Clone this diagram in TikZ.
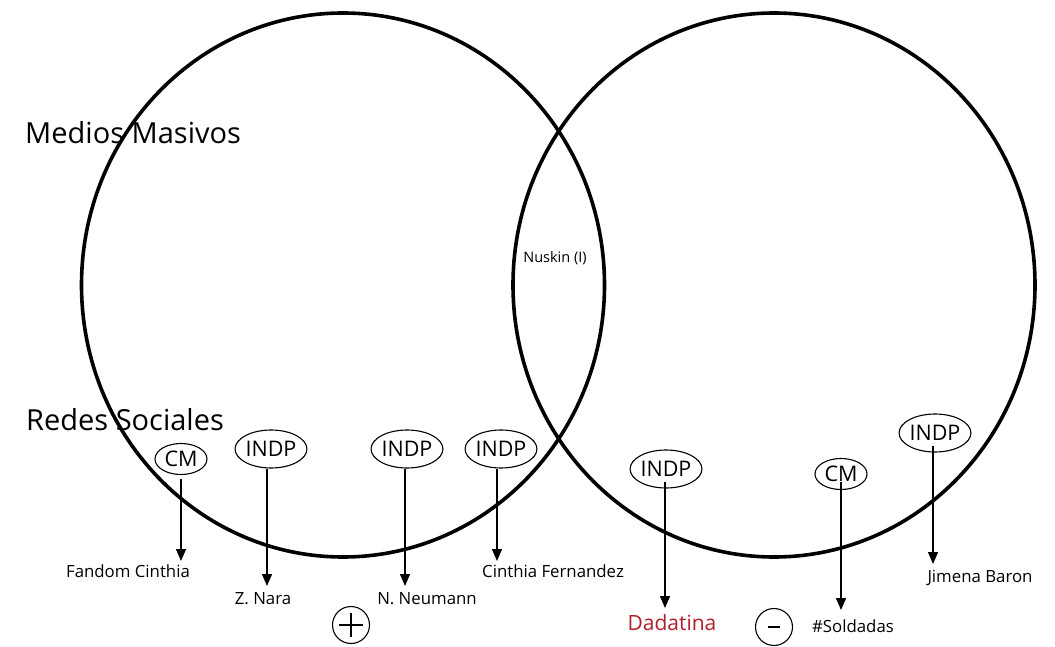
\documentclass[tikz,border=0pt]{standalone}
\usepackage{fontspec}
\setmainfont{Open Sans}
\usetikzlibrary{shapes.geometric,arrows.meta}
\definecolor{namered}{HTML}{B01E2D}
\tikzset{
  setring/.style={line width=3.6pt},
  tag/.style={ellipse,draw,line width=1.1pt,inner sep=0pt,font=\fontsize{21.5}{21.5}\selectfont},
  bigtag/.style={tag,minimum width=67pt,minimum height=38pt},
  smalltag/.style={tag,minimum width=52pt,minimum height=31pt},
  who/.style={inner sep=0pt,font=\fontsize{16.8}{17}\selectfont},
  heading/.style={inner sep=0pt,anchor=base west,font=\fontsize{29}{29}\selectfont},
  pointer/.style={line width=1.4pt,-{Triangle[width=10pt,length=12pt]}},
  signmark/.style={circle,draw,line width=1.1pt,minimum size=37pt,inner sep=0pt}
}
\begin{document}
\begin{tikzpicture}[x=1pt,y=-1pt]
\useasboundingbox (0,0) rectangle (1055,647);

% the two sets
\draw[setring] (343,285) ellipse [x radius=261.5,y radius=272];
\draw[setring] (774,285) ellipse [x radius=261,y radius=272];

% row headings
\node[heading] (mm) at (25,144) {Medios Masivos};
\node[heading] (rs) at (26,430) {Redes Sociales};

% intersection
\node[who,font=\fontsize{14.5}{15}\selectfont] (nus) at (555,258) {Nuskin (I)};

% tags, left set
\node[smalltag] (t1) at (181,459) {CM};
\node[bigtag]   (t2) at (271,449) {INDP};
\node[bigtag]   (t3) at (407,449) {INDP};
\node[bigtag]   (t4) at (501,449) {INDP};

% tags, right set
\node[bigtag]   (t5) at (666,469) {INDP};
\node[smalltag] (t6) at (841,474) {CM};
\node[bigtag]   (t7) at (935,433) {INDP};

% arrow end points
\coordinate (e1) at (181,561);
\coordinate (e2) at (267,586);
\coordinate (e3) at (405,586);
\coordinate (e4) at (497,561);
\coordinate (e5) at (665,608);
\coordinate (e6) at (841,610);
\coordinate (e7) at (933,564);

\draw[pointer] (t1.south |- 0,479) -- (e1);
\draw[pointer] (t2.south -| e2) -- (e2);
\draw[pointer] (t3.south -| e3) -- (e3);
\draw[pointer] (t4.south -| e4) -- (e4);
\draw[pointer] ([yshift=7pt]t5.south -| e5) -- (e5);
\draw[pointer] ([yshift=8pt]t6.south -| e6) -- (e6);
\draw[pointer] ([yshift=7pt]t7.south -| e7) -- (e7);

% names
\node[who] (n1) at (128,571) {Fandom Cinthia};
\node[who] (n2) at (263,599) {Z. Nara};
\node[who] (n3) at (427,599) {N. Neumann};
\node[who] (n4) at (553,571) {Cinthia Fernandez};
\node[who,text=namered,font=\fontsize{21}{21}\selectfont] (n5) at (672,623) {Dadatina};
\node[who] (n6) at (853,626) {\#Soldadas};
\node[who] (n7) at (980,578) {Jimena Baron};

% plus and minus signs
\node[signmark] (plus) at (351,625) {};
\draw[line width=1.6pt] ([xshift=-12pt]plus.center) -- ([xshift=12pt]plus.center);
\draw[line width=1.6pt] ([yshift=-12pt]plus.center) -- ([yshift=12pt]plus.center);
\node[signmark] (minus) at (774,627) {};
\draw[line width=2.4pt] ([xshift=-6pt]minus.center) -- ([xshift=6pt]minus.center);
\end{tikzpicture}
\end{document}
